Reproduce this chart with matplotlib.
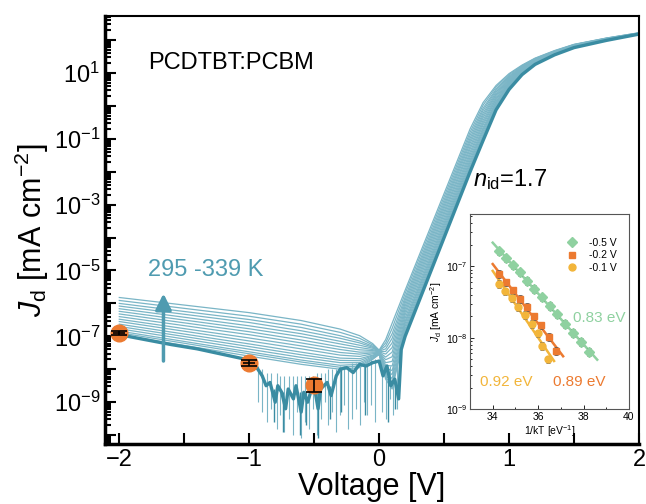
import numpy as np
import matplotlib
matplotlib.use('Agg')
import matplotlib.pyplot as plt
from matplotlib.ticker import MultipleLocator, LogLocator, FuncFormatter, NullFormatter
from matplotlib.lines import Line2D

plt.rcParams['font.family'] = ['Liberation Sans', 'DejaVu Sans']
plt.rcParams['mathtext.fontset'] = 'custom'
plt.rcParams['mathtext.rm'] = 'Liberation Sans'
plt.rcParams['mathtext.it'] = 'Liberation Sans:italic'
plt.rcParams['mathtext.bf'] = 'Liberation Sans:bold'

# ---- main panel data (log10 of J in mA cm^-2) ----
v_nodes = [-2.0, -1.0, -0.6, -0.3, -0.15, -0.05, 0.0, 0.05, 0.1, 0.2,
           0.7, 0.8, 0.9, 1.0, 1.1, 1.2, 1.35, 1.5, 1.75, 2.0]

# thin curves, cold -> hot (297 ... 339 K)
logj_curves = [
    [-6.95, -7.60, -7.85, -8.00, -7.95, -7.70, -7.55, -8.30, -8.60, -6.90,
     -1.90, -0.95, -0.05, 0.55, 0.98, 1.28, 1.56, 1.78, 2.00, 2.18],
    [-6.89, -7.53, -7.78, -7.94, -7.90, -7.68, -7.54, -8.24, -8.50, -6.84,
     -1.84, -0.90, -0.02, 0.57, 0.99, 1.29, 1.57, 1.78, 2.00, 2.18],
    [-6.84, -7.47, -7.72, -7.88, -7.85, -7.65, -7.54, -8.18, -8.40, -6.77,
     -1.78, -0.85, 0.02, 0.59, 1.01, 1.30, 1.57, 1.79, 2.01, 2.18],
    [-6.77, -7.39, -7.64, -7.80, -7.80, -7.62, -7.53, -8.11, -8.28, -6.69,
     -1.71, -0.78, 0.06, 0.62, 1.02, 1.31, 1.58, 1.79, 2.01, 2.19],
    [-6.70, -7.31, -7.56, -7.73, -7.74, -7.59, -7.52, -8.04, -8.16, -6.61,
     -1.64, -0.72, 0.10, 0.65, 1.04, 1.32, 1.59, 1.80, 2.01, 2.19],
    [-6.63, -7.23, -7.48, -7.66, -7.68, -7.57, -7.51, -7.96, -8.04, -6.54,
     -1.56, -0.66, 0.14, 0.67, 1.05, 1.33, 1.59, 1.81, 2.02, 2.19],
    [-6.55, -7.14, -7.38, -7.57, -7.61, -7.53, -7.50, -7.88, -7.90, -6.45,
     -1.48, -0.58, 0.19, 0.70, 1.07, 1.34, 1.60, 1.81, 2.02, 2.19],
    [-6.48, -7.05, -7.29, -7.49, -7.54, -7.50, -7.50, -7.80, -7.76, -6.35,
     -1.40, -0.51, 0.23, 0.73, 1.09, 1.35, 1.61, 1.82, 2.03, 2.20],
    [-6.40, -6.95, -7.20, -7.40, -7.48, -7.47, -7.49, -7.71, -7.62, -6.26,
     -1.31, -0.44, 0.28, 0.76, 1.11, 1.36, 1.62, 1.82, 2.03, 2.20],
    [-6.32, -6.86, -7.11, -7.32, -7.41, -7.43, -7.48, -7.63, -7.48, -6.17,
     -1.23, -0.36, 0.33, 0.79, 1.13, 1.38, 1.63, 1.83, 2.03, 2.20],
    [-6.24, -6.77, -7.01, -7.23, -7.34, -7.40, -7.47, -7.54, -7.34, -6.08,
     -1.14, -0.29, 0.37, 0.82, 1.14, 1.39, 1.64, 1.84, 2.04, 2.21],
    [-6.16, -6.68, -6.92, -7.15, -7.27, -7.36, -7.46, -7.46, -7.20, -5.99,
     -1.06, -0.22, 0.42, 0.85, 1.16, 1.40, 1.64, 1.84, 2.04, 2.21],
    [-6.08, -6.58, -6.83, -7.06, -7.20, -7.33, -7.45, -7.38, -7.06, -5.90,
     -0.98, -0.14, 0.47, 0.88, 1.18, 1.41, 1.65, 1.85, 2.05, 2.21],
    [-6.00, -6.49, -6.73, -6.98, -7.14, -7.30, -7.44, -7.29, -6.92, -5.81,
     -0.89, -0.07, 0.51, 0.91, 1.20, 1.42, 1.66, 1.86, 2.05, 2.21],
    [-5.91, -6.39, -6.63, -6.88, -7.06, -7.26, -7.43, -7.20, -6.76, -5.70,
     -0.80, 0.02, 0.57, 0.95, 1.22, 1.44, 1.67, 1.86, 2.06, 2.22],
    [-5.82, -6.28, -6.52, -6.78, -6.98, -7.22, -7.42, -7.10, -6.60, -5.60,
     -0.70, 0.10, 0.62, 0.98, 1.24, 1.45, 1.68, 1.87, 2.06, 2.22],
]

# 295 K curve (thick)
v_295 = [-2.0, -1.8, -1.6, -1.4, -1.2, -1.0, -0.95, -0.9, -0.87, -0.84, -0.8, -0.78, -0.75, -0.72,
         -0.7, -0.66, -0.64, -0.6, -0.58, -0.55, -0.52, -0.5, -0.47, -0.45, -0.4, -0.37, -0.33,
         -0.3, -0.25, -0.2, -0.15, -0.1, -0.05, 0.0, 0.03, 0.06, 0.09, 0.12, 0.15, 0.17, 0.2,
         0.7, 0.8, 0.9, 1.0, 1.1, 1.2, 1.35, 1.5, 1.75, 2.0]
logj_295 = [-6.95, -7.1, -7.25, -7.38, -7.55, -7.72, -7.9, -8.2, -8.5, -8.4, -9.0, -8.5, -8.7, -9.2,
            -8.6, -8.9, -8.5, -9.3, -8.7, -9.0, -8.6, -8.5, -9.2, -8.6, -8.4, -8.8, -8.2,
            -8.0, -7.95, -8.1, -7.85, -7.9, -7.8, -7.75, -8.2, -7.9, -8.5, -8.3, -8.9, -7.4, -7.0,
            -2.0, -1.05, -0.12, 0.5, 0.95, 1.26, 1.55, 1.77, 1.99, 2.18]

# noise spikes of the cold curves
spike_v = [-0.93, -0.9, -0.86, -0.83, -0.79, -0.76, -0.73, -0.69, -0.66, -0.63, -0.6, -0.57,
           -0.54, -0.51, -0.48, -0.45, -0.42, -0.39, -0.36, -0.33, -0.3, -0.27, -0.24, -0.21,
           -0.18, -0.15, -0.12, -0.09, -0.06, -0.03, 0.02, 0.05, 0.08, 0.11, 0.14]
spike_lo = [-9.0, -9.3, -9.6, -9.2, -9.8, -9.4, -9.9, -9.5, -10.0, -9.3, -10.1, -9.6,
            -9.8, -9.2, -10.0, -9.5, -9.0, -9.7, -9.3, -9.9, -9.4, -9.1, -9.8, -9.5,
            -9.2, -9.7, -9.0, -9.4, -9.1, -9.6, -9.3, -9.5, -8.9, -9.4, -9.2]
spike_hi = [-7.9, -8.0, -8.1, -8.1, -8.1, -8.2, -8.2, -8.2, -8.2, -8.2, -8.2, -8.2,
            -8.2, -8.2, -8.1, -8.1, -8.1, -8.0, -8.0, -8.0, -7.9, -7.9, -7.9, -7.8,
            -7.8, -7.8, -7.8, -7.8, -7.7, -7.7, -7.8, -7.9, -7.9, -7.9, -7.8]
# deeper spikes of the 295 K curve
spike2_v = [-0.81, -0.74, -0.61, -0.56, -0.47, -0.38, -0.29, -0.11, 0.07, 0.12]
spike2_lo = [-9.6, -9.9, -10.0, -9.7, -10.1, -9.5, -9.3, -9.4, -9.6, -9.2]
spike2_hi = [-8.6, -8.7, -8.7, -8.7, -8.6, -8.5, -8.0, -7.9, -8.0, -8.3]

# orange markers at fixed bias
mark_v = [-2.0, -1.0, -0.5]
mark_j = [1.3e-7, 1.6e-8, 3.3e-9]
mark_err_lo = [2.0e-8, 3.0e-9, 1.2e-9]
mark_err_hi = [2.0e-8, 3.0e-9, 1.9e-9]
mark_xerr = [0.045, 0.045, 0.0]

# ---- inset data: J vs 1/kT ----
x_05 = [34.26, 34.59, 34.91, 35.20, 35.52, 35.83, 36.18, 36.52, 36.84, 37.18, 37.54, 37.89, 38.25]
j_05 = [1.63e-7, 1.29e-7, 1.03e-7, 8.2e-8, 6.25e-8, 4.84e-8, 3.67e-8, 2.78e-8, 2.11e-8, 1.56e-8,
        1.17e-8, 8.7e-9, 6.3e-9]
x_02 = [34.26, 34.59, 34.88, 35.20, 35.49, 35.81, 36.13, 36.46, 36.78]
j_02 = [7.8e-8, 6.0e-8, 4.6e-8, 3.5e-8, 2.7e-8, 2.0e-8, 1.5e-8, 1.03e-8, 6.5e-9]
x_01 = [34.26, 34.55, 34.84, 35.13, 35.43, 35.72, 35.98, 36.18, 36.43]
j_01 = [5.7e-8, 4.5e-8, 3.6e-8, 2.7e-8, 2.1e-8, 1.56e-8, 1.16e-8, 7.7e-9, 5.0e-9]
rel_err = 0.12

teal = '#4f9bb0'
teal_light = '#7ab5c6'
teal_dark = '#3a8ca2'
orange = '#ec7a30'
green = '#8fd1a0'
yellow = '#f2b53a'

fig = plt.figure(figsize=(6.46, 5.04), dpi=100)
ax = fig.add_axes([105 / 646, 60 / 504, 534 / 646, 428 / 504])

for row in logj_curves:
    ax.plot(v_nodes, 10 ** np.array(row), color=teal_light, lw=0.9)
ax.vlines(spike_v, 10 ** np.array(spike_lo), 10 ** np.array(spike_hi), color=teal_light, lw=0.8)
ax.vlines(spike2_v, 10 ** np.array(spike2_lo), 10 ** np.array(spike2_hi), color=teal_dark, lw=1.0)
ax.plot(v_295, 10 ** np.array(logj_295), color=teal_dark, lw=2.4)

# orange points with black error crosses on top
ax.plot(mark_v, mark_j, 'o', color=orange, ms=12, zorder=5)
ax.errorbar(mark_v, mark_j, yerr=[mark_err_lo, mark_err_hi], fmt='none',
            ecolor='black', elinewidth=1.2, capsize=6, capthick=1.2, zorder=6)
ax.errorbar(mark_v, mark_j, xerr=mark_xerr, fmt='none',
            ecolor='black', elinewidth=1.2, capsize=0, zorder=6)

ax.set_yscale('log')
ax.set_xlim(-2.11, 2.0)
ax.set_ylim(10 ** -10.27, 10 ** 2.73)
ax.xaxis.set_major_locator(MultipleLocator(1))
ax.xaxis.set_minor_locator(MultipleLocator(0.5))
ax.yaxis.set_major_locator(LogLocator(base=10, numticks=30))
ax.yaxis.set_minor_locator(LogLocator(base=10, subs=np.arange(2, 10), numticks=30))
ax.yaxis.set_minor_formatter(NullFormatter())


def odd_decades(val, pos):
    e = int(round(np.log10(val)))
    return '10$^{%d}$' % e if e % 2 else ''


ax.yaxis.set_major_formatter(FuncFormatter(odd_decades))
ax.tick_params(which='both', direction='in', labelsize=17, width=1.5)
ax.tick_params(which='major', length=8)
ax.tick_params(axis='y', which='minor', length=4)
ax.tick_params(axis='x', which='minor', length=8)
for side in ['left', 'bottom']:
    ax.spines[side].set_linewidth(2.5)
for side in ['top', 'right']:
    ax.spines[side].set_linewidth(1.5)

ax.set_xlabel('Voltage [V]', fontsize=22, labelpad=1)
ax.set_ylabel(r'$J_\mathrm{d}$ [mA cm$^{-2}$]', fontsize=22, labelpad=2)

ax.text(-1.78, 20, 'PCDTBT:PCBM', fontsize=17, va='center')
ax.text(-1.78, 1e-5, '295 -339 K', fontsize=17, color=teal, va='center')
ax.annotate('', xy=(-1.66, 10 ** -5.7), xytext=(-1.66, 10 ** -7.75), zorder=4,
            arrowprops=dict(arrowstyle='-|>', color=teal, lw=2.5, mutation_scale=24,
                            shrinkA=0, shrinkB=0))
ax.text(0.72, 10 ** -2.25, r'$n_\mathrm{id}$=1.7', fontsize=17, va='center')

# ---- inset ----
axi = fig.add_axes([470 / 646, 1 - 409 / 504, 159 / 646, 195 / 504])
series = [(x_05, j_05, 'D', green, '-0.5 V', 34.0, 38.6),
          (x_02, j_02, 's', orange, '-0.2 V', 34.0, 37.1),
          (x_01, j_01, 'o', yellow, '-0.1 V', 34.0, 36.7)]
handles = []
for xs, js, mk, col, lab, x0, x1 in series:
    xs = np.array(xs)
    js = np.array(js)
    coef = np.polyfit(xs, np.log10(js), 1)
    xf = np.array([x0, x1])
    axi.plot(xf, 10 ** np.polyval(coef, xf), color=col, lw=1.8, zorder=2)
    axi.errorbar(xs, js, yerr=rel_err * js, fmt=mk, color=col, ms=5, mec=col,
                 ecolor='#555555', elinewidth=0.6, capsize=1.5, capthick=0.6, zorder=3)
    handles.append(Line2D([], [], ls='none', marker=mk, color=col, ms=5, label=lab))

axi.set_yscale('log')
axi.set_xlim(33, 40)
axi.set_ylim(1e-9, 5.4e-7)
axi.xaxis.set_major_locator(MultipleLocator(2))
axi.xaxis.set_minor_locator(MultipleLocator(1))
axi.yaxis.set_major_locator(LogLocator(base=10, numticks=10))
axi.yaxis.set_minor_locator(LogLocator(base=10, subs=np.arange(2, 10), numticks=10))
axi.yaxis.set_minor_formatter(NullFormatter())
axi.tick_params(which='both', direction='in', labelsize=7.5, width=0.6, pad=2)
axi.tick_params(which='major', length=3)
axi.tick_params(which='minor', length=1.5)
for sp in axi.spines.values():
    sp.set_linewidth(0.8)
    sp.set_color('#555555')
axi.set_xlabel('1/kT [eV$^{-1}$]', fontsize=7.5, labelpad=1)
axi.set_ylabel(r'$J_\mathrm{d}$ [mA cm$^{-2}$]', fontsize=7.5, labelpad=1)
axi.legend(handles=handles, loc='upper right', bbox_to_anchor=(0.95, 0.9), fontsize=7.5,
           frameon=False, handletextpad=0.6, labelspacing=0.25, borderaxespad=0.0)

axi.text(37.54, 1.9e-8, '0.83 eV', fontsize=11, color=green, va='center')
axi.text(33.44, 2.4e-9, '0.92 eV', fontsize=11, color=yellow, va='center')
axi.text(36.66, 2.4e-9, '0.89 eV', fontsize=11, color=orange, va='center')

fig.savefig('out.png', dpi=100)
